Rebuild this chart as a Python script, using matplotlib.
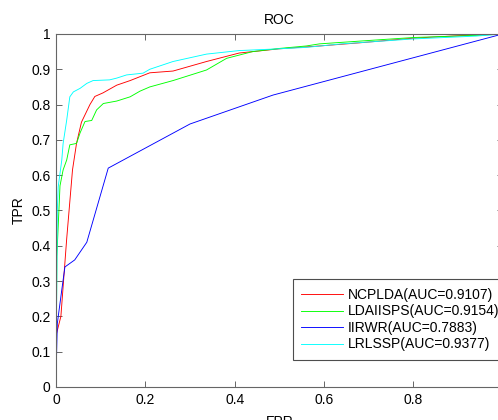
import matplotlib
matplotlib.use("Agg")
import matplotlib.pyplot as plt

plt.rcParams['font.family'] = ['Liberation Sans', 'DejaVu Sans']

# ROC curves (FPR, TPR)
ncplda_fpr = [0, 0.001, 0.011, 0.024, 0.037, 0.046, 0.057, 0.076, 0.087, 0.105, 0.136, 0.166,
              0.188, 0.21, 0.262, 0.337, 0.41, 0.50, 0.59, 0.68, 0.80, 0.90, 1.0]
ncplda_tpr = [0, 0.15, 0.20, 0.42, 0.615, 0.69, 0.75, 0.80, 0.823, 0.833, 0.855, 0.868,
              0.879, 0.89, 0.895, 0.922, 0.946, 0.958, 0.966, 0.975, 0.988, 0.995, 1.0]

ldaiisps_fpr = [0, 0.002, 0.009, 0.016, 0.024, 0.031, 0.046, 0.054, 0.065, 0.08, 0.091, 0.106,
                0.136, 0.166, 0.188, 0.21, 0.262, 0.337, 0.382, 0.44, 0.50, 0.56, 0.59,
                0.717, 0.80, 0.94, 1.0]
ldaiisps_tpr = [0, 0.37, 0.57, 0.615, 0.643, 0.686, 0.69, 0.72, 0.752, 0.755, 0.785, 0.803,
                0.81, 0.822, 0.838, 0.85, 0.868, 0.898, 0.931, 0.95, 0.959, 0.966, 0.972,
                0.983, 0.99, 0.996, 1.0]

iirwr_fpr = [0, 0.0, 0.003, 0.013, 0.02, 0.042, 0.069, 0.117, 0.30, 0.486, 1.0]
iirwr_tpr = [0, 0.02, 0.18, 0.275, 0.34, 0.36, 0.41, 0.62, 0.745, 0.827, 1.0]

lrlssp_fpr = [0, 0.003, 0.005, 0.013, 0.016, 0.024, 0.031, 0.039, 0.054, 0.069, 0.083, 0.12,
              0.136, 0.158, 0.195, 0.21, 0.262, 0.337, 0.41, 0.50, 0.56, 0.64, 0.80, 0.94, 1.0]
lrlssp_tpr = [0, 0.5, 0.567, 0.643, 0.69, 0.756, 0.822, 0.836, 0.846, 0.86, 0.868, 0.87,
              0.875, 0.884, 0.889, 0.9, 0.922, 0.943, 0.953, 0.958, 0.962, 0.972, 0.986, 0.994, 1.0]

labels = ["NCPLDA(AUC=0.9107)", "LDAIISPS(AUC=0.9154)", "IIRWR(AUC=0.7883)", "LRLSSP(AUC=0.9377)"]
xticks = [0, 0.2, 0.4, 0.6, 0.8]
yticks = [0, 0.1, 0.2, 0.3, 0.4, 0.5, 0.6, 0.7, 0.8, 0.9, 1]

fig = plt.figure(figsize=(4.98, 4.20), dpi=100)
ax = fig.add_axes([0.1124, 0.0786, 0.897, 0.8405])

lw = 0.65
ax.plot(ncplda_fpr, ncplda_tpr, color='#ff0000', lw=lw, label=labels[0])
ax.plot(ldaiisps_fpr, ldaiisps_tpr, color='#00ff00', lw=lw, label=labels[1])
ax.plot(iirwr_fpr, iirwr_tpr, color='#0000ff', lw=lw, label=labels[2])
ax.plot(lrlssp_fpr, lrlssp_tpr, color='#00ffff', lw=lw, label=labels[3])

ax.set_xlim(0, 1)
ax.set_ylim(0, 1)
ax.set_xticks(xticks)
ax.set_xticklabels(['0', '0.2', '0.4', '0.6', '0.8'])
ax.set_yticks(yticks)
ax.set_yticklabels(['0', '0.1', '0.2', '0.3', '0.4', '0.5', '0.6', '0.7', '0.8', '0.9', '1'])
ax.tick_params(direction='in', length=4, width=0.6, top=True, right=True,
               labelsize=10, color='0.3', pad=4)
for s in ax.spines.values():
    s.set_color('0.4')
    s.set_linewidth(0.8)

ax.set_title("ROC", fontsize=10, pad=7)
ax.set_xlabel("FPR", fontsize=10, labelpad=6)
ax.set_ylabel("TPR", fontsize=10)

leg = ax.legend(loc='lower left', bbox_to_anchor=(292.5 / 498, 60 / 420),
                bbox_transform=fig.transFigure, fontsize=10, fancybox=False,
                framealpha=1, handlelength=3.0, handletextpad=0.35,
                labelspacing=0.18, borderpad=0.62, borderaxespad=0)
leg.get_frame().set_edgecolor('0.3')
leg.get_frame().set_linewidth(0.8)

fig.savefig("out.png", dpi=100)
